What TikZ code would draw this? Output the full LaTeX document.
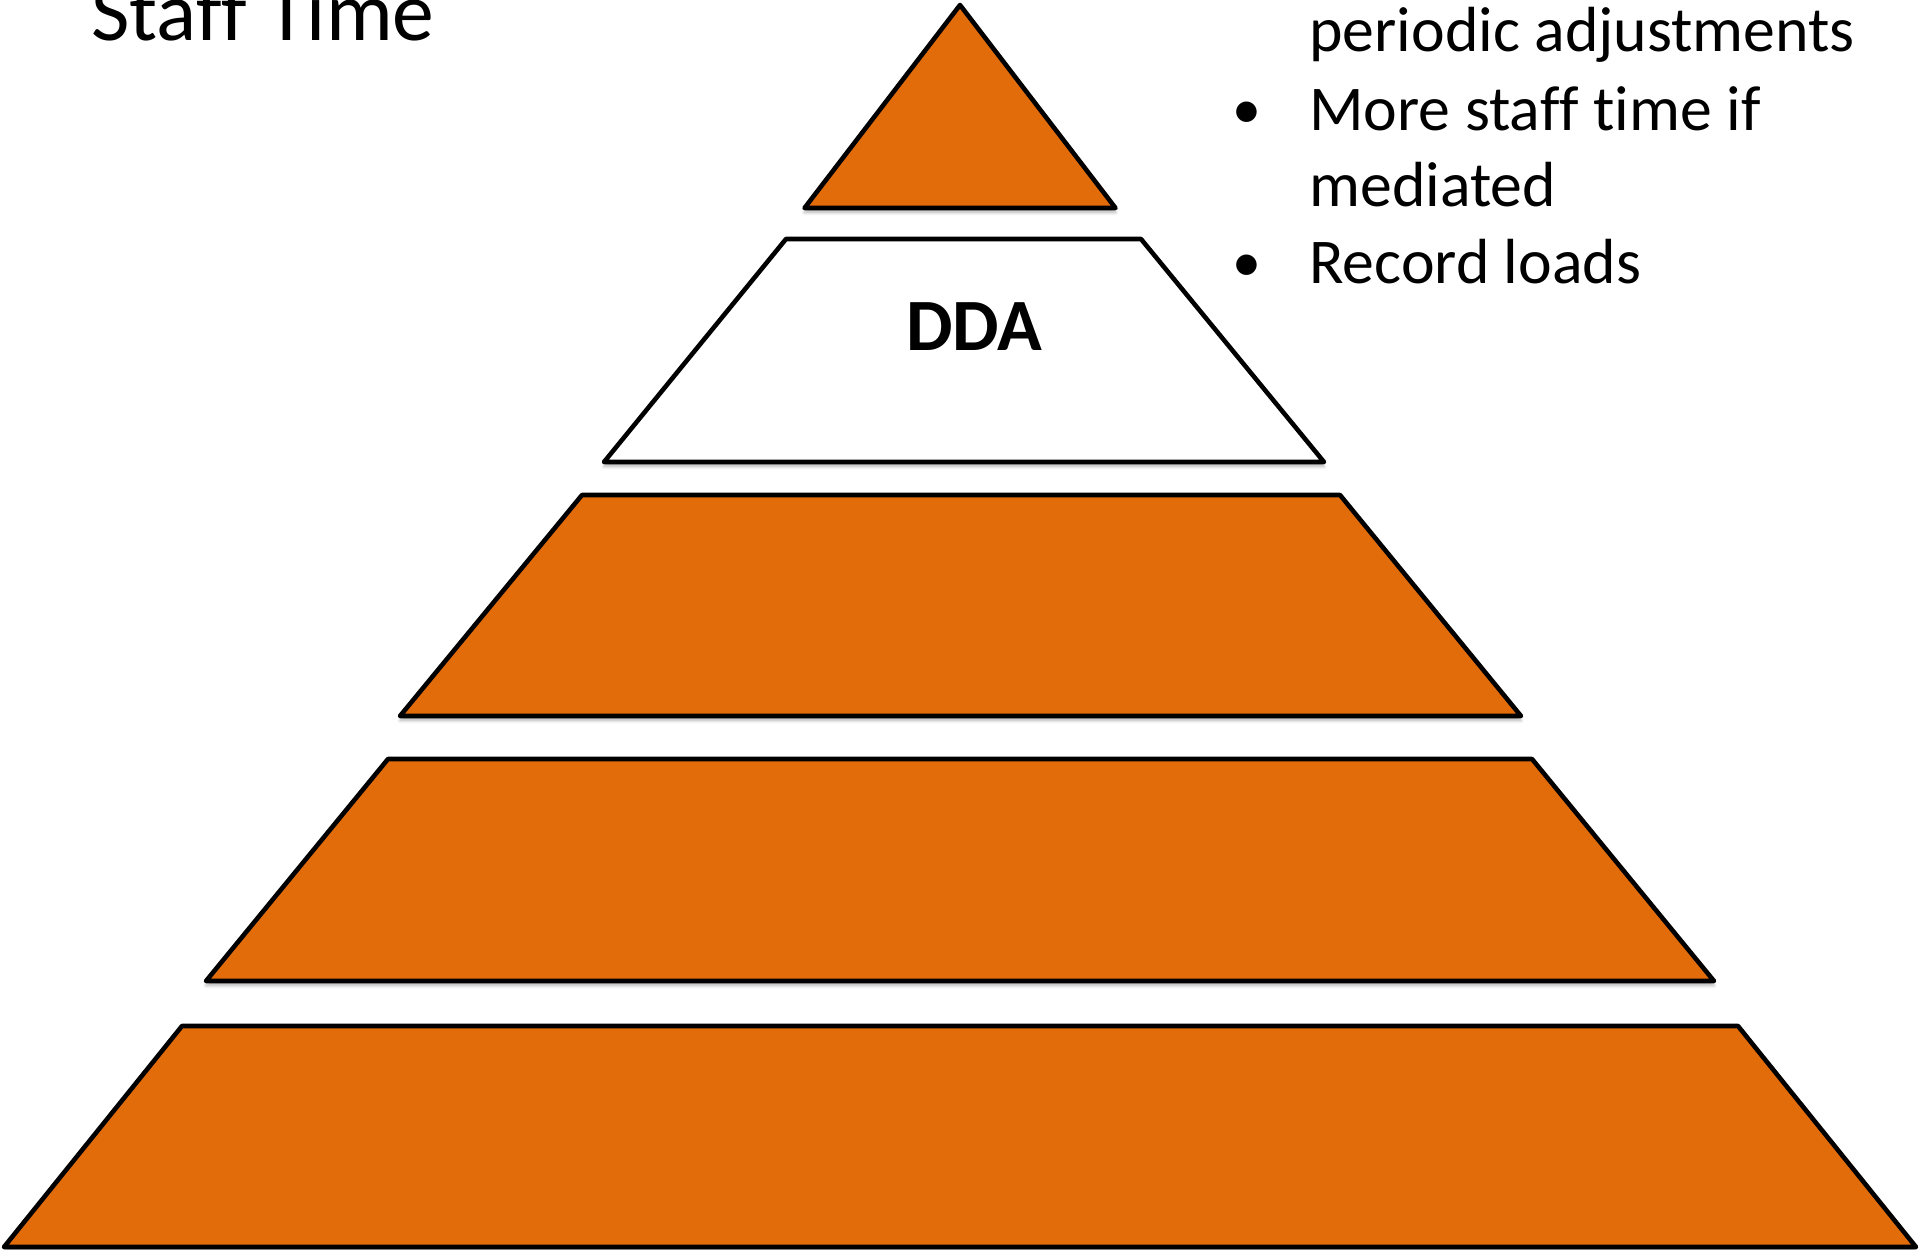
\documentclass[tikz,border=0pt]{standalone}
\usepackage{fontspec}
\setmainfont{Carlito}[RawFeature={-liga;-clig;-dlig;-calt}]
\usetikzlibrary{shadows.blur}
\definecolor{tierorange}{HTML}{E36C0A}
\begin{document}
\begin{tikzpicture}[x=0.02cm,y=-0.02cm,
  tier/.style={draw=black,line width=2.6pt,line join=round,
    blur shadow={shadow xshift=0pt,shadow yshift=-2.5pt,shadow blur steps=6,shadow opacity=30}},
  body/.style={font=\fontsize{36.3}{43.5}\selectfont,anchor=base west,inner sep=0pt},
  dot/.style={font=\fontsize{33}{40}\selectfont,anchor=base,inner sep=0pt}]
\useasboundingbox (0,0) rectangle (1920,1249);
\clip (0,0) rectangle (1920,1249);

% pyramid tiers, top to bottom
\path[tier,fill=tierorange] (960,5) -- (1115.5,208) -- (804.5,208) -- cycle;
\path[tier,fill=white] (786,239) -- (1141,239) -- (1324,462) -- (604,462) -- cycle;
\path[tier,fill=tierorange] (582,495) -- (1340,495) -- (1521,716) -- (400,716) -- cycle;
\path[tier,fill=tierorange] (388,759) -- (1532,759) -- (1714,981) -- (206,981) -- cycle;
\path[tier,fill=tierorange] (182,1026) -- (1738,1026) -- (1916,1247) -- (4,1247) -- cycle;

% labels
\node[font=\fontsize{42}{50}\selectfont\bfseries,anchor=base,inner sep=0pt] (dda) at (974,350) {DDA};
\node[font=\fontsize{47.6}{57}\selectfont,anchor=base west,inner sep=0pt] (title) at (91,40) {Staf\kern0ptf Ti\kern0ptme};

% notes on the right
\node[body] (l1) at (1309,51) {periodic adjustments};
\node[dot] (b2) at (1247,128) {•};
\node[body] (l2) at (1309,130) {More staf\kern0ptf t\kern0ptime if};
\node[body] (l3) at (1309,206) {mediated};
\node[dot] (b4) at (1247,281) {•};
\node[body] (l4) at (1309,283) {Record loads};
\end{tikzpicture}
\end{document}
